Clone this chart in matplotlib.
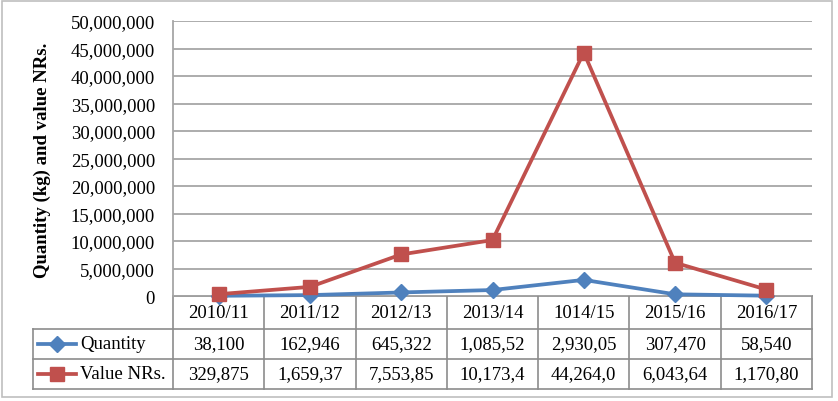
import matplotlib
matplotlib.use("Agg")
import matplotlib.pyplot as plt
import matplotlib.transforms as mtransforms
from matplotlib.patches import Rectangle
from matplotlib.ticker import FuncFormatter

# data
years = ['2010/11', '2011/12', '2012/13', '2013/14', '1014/15', '2015/16', '2016/17']
quantity = [38100, 162946, 645322, 1085520, 2930050, 307470, 58540]
value_nrs = [329875, 1659370, 7553850, 10173400, 44264000, 6043640, 1170800]
# table text as printed (cells are clipped in the original)
quantity_txt = ['38,100', '162,946', '645,322', '1,085,52', '2,930,05', '307,470', '58,540']
value_txt = ['329,875', '1,659,37', '7,553,85', '10,173,4', '44,264,0', '6,043,64', '1,170,80']

blue = '#4F81BD'
red = '#C0504D'
fs = 13.5
plt.rcParams['font.family'] = ['Liberation Serif', 'DejaVu Serif']

W, H = 838, 402
fig = plt.figure(figsize=(W / 100, H / 100), dpi=100)

# overlay in pixel coords for table + border
over = fig.add_axes([0, 0, 1, 1], zorder=0)
over.set_xlim(0, W)
over.set_ylim(H, 0)
over.axis('off')
over.add_patch(Rectangle((2, 2), 830, 396, fill=False, edgecolor='#BFBFBF', lw=1.2))

left, right, top, bottom = 173, 812, 22, 297
ax = fig.add_axes([left / W, 1 - bottom / H, (right - left) / W, (bottom - top) / H], zorder=2)
ax.patch.set_alpha(0)
n = len(years)
xs = [i + 0.5 for i in range(n)]

ax.plot(xs, quantity, color=blue, lw=2.7, marker='D', ms=8.5, label='Quantity', clip_on=False)
ax.plot(xs, value_nrs, color=red, lw=2.7, marker='s', ms=10, label='Value NRs.', clip_on=False)

ax.set_xlim(0, n)
ax.set_ylim(0, 50000000)
ax.set_yticks(range(0, 50000001, 5000000))
ax.yaxis.set_major_formatter(FuncFormatter(lambda v, p: f'{int(v):,}'))
ax.tick_params(axis='y', length=0, pad=13, labelsize=fs)
ax.set_xticks([])
ax.grid(axis='y', color='#A6A6A6', lw=1.3)
ax.set_axisbelow(True)
for s in ['top', 'right', 'bottom']:
    ax.spines[s].set_visible(False)
ax.spines['left'].set_color('#A6A6A6')
ax.spines['left'].set_linewidth(1.3)

fig.text(42 / W, 1 - 160 / H, 'Quantity (kg) and value NRs.', rotation=90,
         ha='center', va='center', fontsize=fs, fontweight='bold')

# data table under the plot
grid_c = '#8C8C8C'
row_y = [297, 330, 360, 390]
col_tr = mtransforms.blended_transform_factory(ax.transData, over.transData)
over.plot([left, right], [row_y[0]] * 2, color=grid_c, lw=1.2)
for y in row_y[1:]:
    over.plot([33, right], [y, y], color=grid_c, lw=1.2)
over.plot([33, 33], [row_y[1], row_y[3]], color=grid_c, lw=1.2)
for i in range(n + 1):
    over.plot([i, i], [row_y[0], row_y[3]], color=grid_c, lw=1.2, transform=col_tr)

for i, (yr, q, v) in enumerate(zip(years, quantity_txt, value_txt)):
    over.text(i + 0.5, 314, yr, ha='center', va='center', fontsize=fs, transform=col_tr)
    over.text(i + 0.5, 345, q, ha='center', va='center', fontsize=fs, transform=col_tr)
    over.text(i + 0.5, 375, v, ha='center', va='center', fontsize=fs, transform=col_tr)

# legend keys in the row headers
over.plot([38, 76], [345, 345], color=blue, lw=2.7)
over.plot([57], [345], color=blue, marker='D', ms=8.5)
over.plot([38, 76], [375, 375], color=red, lw=2.7)
over.plot([57], [375], color=red, marker='s', ms=10)
over.text(80, 345, 'Quantity', ha='left', va='center', fontsize=fs)
over.text(80, 375, 'Value NRs.', ha='left', va='center', fontsize=fs)

fig.savefig('out.png', dpi=100)
